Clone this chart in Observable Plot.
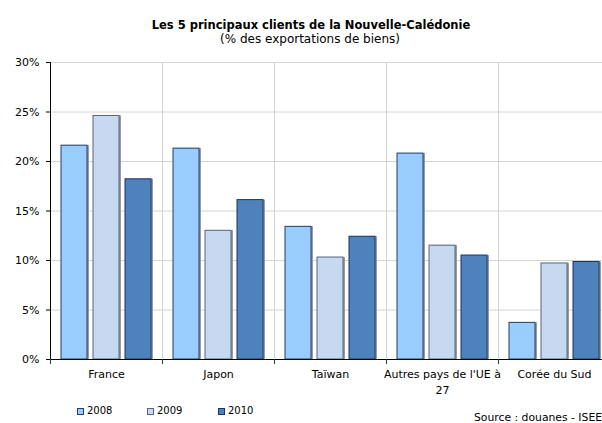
<!DOCTYPE html>
<html>
<head>
<meta charset="utf-8">
<script src="https://cdn.jsdelivr.net/npm/d3@7"></script>
<script src="https://cdn.jsdelivr.net/npm/@observablehq/plot@0.6"></script>
<style>
  html, body { margin: 0; padding: 0; background: #fff; }
  #wrap { position: relative; width: 602px; height: 423px; overflow: hidden; font-family: "DejaVu Sans", sans-serif; color: #000; }
  #wrap svg { position: absolute; left: 0; top: 0; }
  .title { position: absolute; left: 0; width: 622px; text-align: center; top: 17px; font-weight: bold; font-size: 11.5px; line-height: 16px; }
  .subtitle { position: absolute; left: 0; width: 620px; text-align: center; top: 31px; font-size: 12px; line-height: 16px; }
  .legend { position: absolute; top: 403px; left: 77px; font-size: 10px; display: flex; line-height: 16px; }
  .legend .item { display: flex; align-items: center; }
  .legend .sw { width: 5px; height: 5px; margin-right: 3px; }
  .source { position: absolute; top: 410px; left: 474px; font-size: 10.8px; white-space: nowrap; line-height: 16px; }
</style>
</head>
<body>
<div id="wrap"></div>
<script>
const categories = ["France", "Japon", "Taïwan", "Autres pays de l'UE à 27", "Corée du Sud"];
const categoryLabels = ["France", "Japon", "Taïwan", "Autres pays de l'UE à\n27", "Corée du Sud"];
const years = ["2008", "2009", "2010"];
const v2008 = [21.6, 21.3, 13.4, 20.8, 3.7];
const v2009 = [24.6, 13.0, 10.3, 11.5, 9.7];
const v2010 = [18.2, 16.1, 12.4, 10.5, 9.85];
const yTicks = [0, 5, 10, 15, 20, 25, 30];
const fills = ["#99CCFF", "#C6D9F1", "#4F81BD"];
const strokes = ["#243F60", "#56657A", "#17375E"];
const titleText = "Les 5 principaux clients de la Nouvelle-Calédonie";
const subtitleText = "(% des exportations de biens)";
const sourceText = "Source : douanes - ISEE";

const series = [v2008, v2009, v2010];
const table = [];
years.forEach((yr, j) => categories.forEach((c, i) => table.push({cat: c, year: yr, value: series[j][i]})));

const W = 602, H = 423, mT = 62, mB = 64, mL = 49, mR = -9;
const plotH = H - mT - mB;

const marks = [
  Plot.gridY(yTicks, {stroke: "#d4d4d4", strokeOpacity: 1}),
  Plot.frame({anchor: "left", stroke: "#d4d4d4"})
];
years.forEach((yr, j) => {
  const rows = table.filter(d => d.year === yr);
  marks.push(Plot.barY(rows, {fx: "cat", x: "year", y: "value", fill: "#9a9a9a", dx: 2}));
  marks.push(Plot.barY(rows, {fx: "cat", x: "year", y: "value", fill: fills[j], stroke: strokes[j], strokeWidth: 1}));
});
marks.push(
  Plot.frame({anchor: "bottom", stroke: "#000"}),
  Plot.frame({anchor: "left", stroke: "#000", facetAnchor: "left"}),
  Plot.frame({anchor: "left", insetTop: plotH, insetBottom: -4, stroke: "#333"}),
  Plot.axisY({ticks: yTicks, tickFormat: d => d + "%", tickSize: 4, tickPadding: 7, anchor: "left", facetAnchor: "left", fontSize: 11, label: null}),
  Plot.axisFx({anchor: "bottom", tickSize: 0, tickPadding: 8, tickFormat: d => categoryLabels[categories.indexOf(d)], lineHeight: 1.4, fontSize: 11, label: null})
);

const chart = Plot.plot({
  width: W, height: H,
  marginTop: mT, marginBottom: mB, marginLeft: mL, marginRight: mR,
  style: {fontFamily: "'DejaVu Sans', sans-serif", fontSize: "11px", color: "#000", background: "transparent"},
  fx: {domain: categories, padding: 0, label: null, axis: null},
  x: {domain: years, paddingInner: 0.19, paddingOuter: 0.3, axis: null},
  y: {domain: [0, 30], axis: null},
  marks
});

const wrap = document.getElementById("wrap");
wrap.appendChild(chart);

function addDiv(cls, text) {
  const d = document.createElement("div");
  d.className = cls;
  d.textContent = text;
  wrap.appendChild(d);
  return d;
}
addDiv("title", titleText);
addDiv("subtitle", subtitleText);
addDiv("source", sourceText);

const legend = document.createElement("div");
legend.className = "legend";
const legendGaps = [70, 71, 0];
years.forEach((yr, j) => {
  const it = document.createElement("div");
  it.className = "item";
  it.style.width = legendGaps[j] ? legendGaps[j] + "px" : "auto";
  const sw = document.createElement("span");
  sw.className = "sw";
  sw.style.background = fills[j];
  sw.style.border = "1px solid " + strokes[j];
  const t = document.createElement("span");
  t.textContent = yr;
  it.appendChild(sw); it.appendChild(t);
  legend.appendChild(it);
});
wrap.appendChild(legend);
</script>
</body>
</html>
